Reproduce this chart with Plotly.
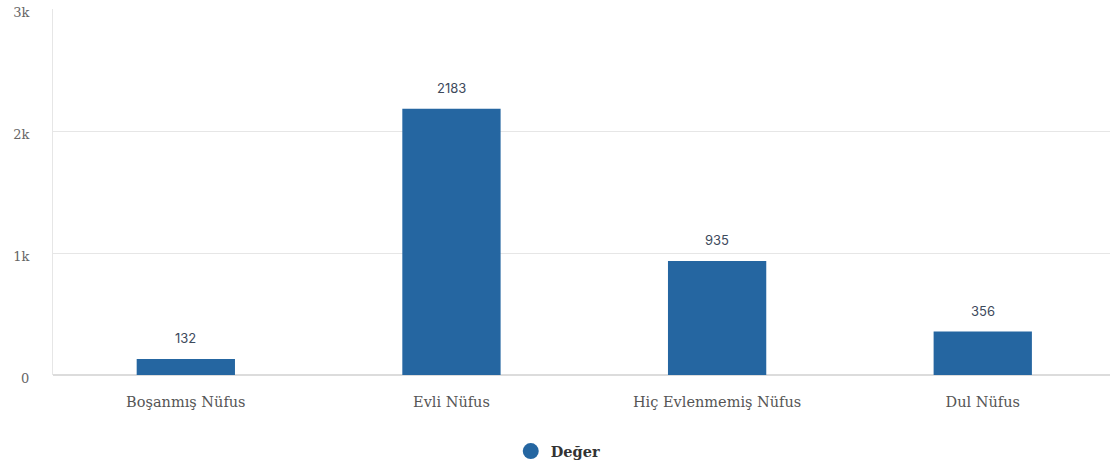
import plotly.graph_objects as go

categories = ["Boşanmış Nüfus", "Evli Nüfus", "Hiç Evlenmemiş Nüfus", "Dul Nüfus"]
values = [132, 2183, 935, 356]
series_name = "Değer"
y_tick_vals = [0, 1000, 2000, 3000]
y_tick_text = ["0", "1k", "2k", "3k"]

bar_color = "#2566a1"
serif = "DejaVu Serif"
sans = "Inter"

fig = go.Figure()
fig.add_trace(go.Bar(
    x=categories, y=values, name=series_name,
    marker=dict(color=bar_color, line=dict(width=0)),
    width=0.37, showlegend=False,
))
# legend entry drawn as a round marker
fig.add_trace(go.Scatter(
    x=[None], y=[None], mode="markers", name=series_name,
    marker=dict(color=bar_color, size=17, symbol="circle"),
))

for c, v in zip(categories, values):
    fig.add_annotation(
        x=c, y=v, text=str(v), showarrow=False,
        yanchor="bottom", yshift=11,
        font=dict(family=sans, size=13, color="#3d4a5c"),
    )

fig.update_layout(
    width=1110, height=468,
    margin=dict(l=53, r=0, t=9, b=93),
    paper_bgcolor="white", plot_bgcolor="white",
    bargap=0.63,
    legend=dict(
        orientation="h", x=0.478, xanchor="center", y=-0.208, yanchor="middle",
        font=dict(family=serif, size=14.5, color="#333", weight="bold"),
        itemsizing="trace",
    ),
)
fig.update_xaxes(
    range=[-0.5, 3.479],
    showgrid=False, showline=False, ticks="",
    ticklabelstandoff=16,
    tickfont=dict(family=serif, size=14.5, color="#555"),
)
fig.update_yaxes(
    range=[0, 3000], tickvals=y_tick_vals, ticktext=y_tick_text,
    showgrid=True, gridcolor="#e6e6e6", gridwidth=1,
    zeroline=True, zerolinecolor="#dcdcdc",
    showline=True, linecolor="#e6e6e6", linewidth=1,
    ticks="", ticklabelstandoff=20, ticklabelshift=3,
    tickfont=dict(family=serif, size=13, color="#666"),
)

fig.write_html("out.html")
